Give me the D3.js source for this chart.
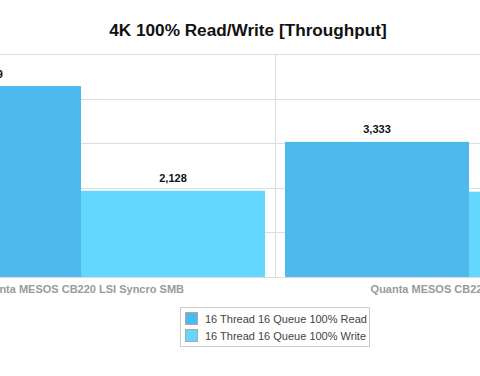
<!DOCTYPE html>
<html>
<head>
<meta charset="utf-8">
<script src="https://cdn.jsdelivr.net/npm/d3@7"></script>
<style>
  html, body { margin: 0; padding: 0; background: #fff; }
  svg { display: block; font-family: "Liberation Sans", Arial, Helvetica, sans-serif; }
</style>
</head>
<body>
<svg id="chart" width="480" height="376"></svg>
<script>
const categories = ["Quanta MESOS CB220 LSI Syncro SMB", "Quanta MESOS CB220 LSI Syncro CS"];
const seriesNames = ["16 Thread 16 Queue 100% Read", "16 Thread 16 Queue 100% Write"];
const readValues = [4709, 3333];
const writeValues = [2128, 2104];
const yTicks = [0, 1100, 2200, 3300, 4400, 5500];
const colors = ["#4eb9ec", "#63d7fd"];

const svg = d3.select("#chart");
const W = 480, H = 376;

const p = 20 / 388;
const x0 = d3.scaleBand().domain(categories).range([-113, 663]).paddingInner(p).paddingOuter(p / 2);
const x1 = d3.scaleBand().domain(seriesNames).range([0, x0.bandwidth()]);
const y = d3.scaleLinear().domain([0, 5500]).range([277, 54]);

// title
svg.append("text").attr("x", 248).attr("y", 36).attr("text-anchor", "middle")
  .attr("font-size", 17.2).attr("font-weight", "bold").attr("fill", "#111")
  .text("4K 100% Read/Write [Throughput]");

// horizontal grid
svg.append("g").selectAll("line").data(yTicks).join("line")
  .attr("x1", 0).attr("x2", W)
  .attr("y1", d => Math.round(y(d)) + 0.5).attr("y2", d => Math.round(y(d)) + 0.5)
  .attr("stroke", "#dddddd").attr("stroke-width", 1);

// vertical grid at band boundaries
const step = x0.step();
const bounds = categories.map(c => x0(c) - step * p / 2).concat([x0(categories[categories.length - 1]) + x0.bandwidth() + step * p / 2]);
svg.append("g").selectAll("line").data(bounds).join("line")
  .attr("x1", d => Math.round(d) + 0.5).attr("x2", d => Math.round(d) + 0.5)
  .attr("y1", y(5500)).attr("y2", y(0))
  .attr("stroke", "#dddddd").attr("stroke-width", 1);

const rows = categories.map((c, i) => ({ cat: c, vals: [readValues[i], writeValues[i]] }));

const groups = svg.append("g").selectAll("g").data(rows).join("g")
  .attr("transform", d => `translate(${x0(d.cat)},0)`);

groups.selectAll("rect").data(d => d.vals.map((v, j) => ({ v, s: seriesNames[j], j }))).join("rect")
  .attr("x", d => x1(d.s)).attr("width", x1.bandwidth())
  .attr("y", d => y(d.v)).attr("height", d => y(0) - y(d.v))
  .attr("fill", d => colors[d.j]);

groups.selectAll("text.val").data(d => d.vals.map((v, j) => ({ v, s: seriesNames[j], j }))).join("text")
  .attr("class", "val")
  .attr("x", d => x1(d.s) + x1.bandwidth() / 2).attr("y", d => y(d.v) - 8.5)
  .attr("text-anchor", "middle").attr("font-size", 11).attr("font-weight", "bold").attr("fill", "#111")
  .text(d => d3.format(",")(d.v));

// baseline
svg.append("line").attr("x1", 0).attr("x2", W).attr("y1", 277.5).attr("y2", 277.5)
  .attr("stroke", "#dddddd");

// category labels
svg.append("g").selectAll("text").data(categories).join("text")
  .attr("x", d => x0(d) + x0.bandwidth() / 2).attr("y", 293)
  .attr("text-anchor", "middle").attr("font-size", 11).attr("font-weight", "bold").attr("fill", "#9a9a9a")
  .text(d => d);

// legend
const lg = svg.append("g");
lg.append("rect").attr("x", 180.5).attr("y", 307.5).attr("width", 189).attr("height", 39)
  .attr("fill", "#fff").attr("stroke", "#cccccc");
const li = lg.selectAll("g").data(seriesNames).join("g")
  .attr("transform", (d, i) => `translate(185,${312 + i * 17})`);
li.append("rect").attr("x", 0.5).attr("y", 0.5).attr("width", 12).attr("height", 12)
  .attr("fill", (d, i) => colors[i]).attr("stroke", "#aaaaaa").attr("stroke-width", 1);
li.append("text").attr("x", 20).attr("y", 10.5).attr("font-size", 11).attr("fill", "#444")
  .text(d => d);
</script>
</body>
</html>
